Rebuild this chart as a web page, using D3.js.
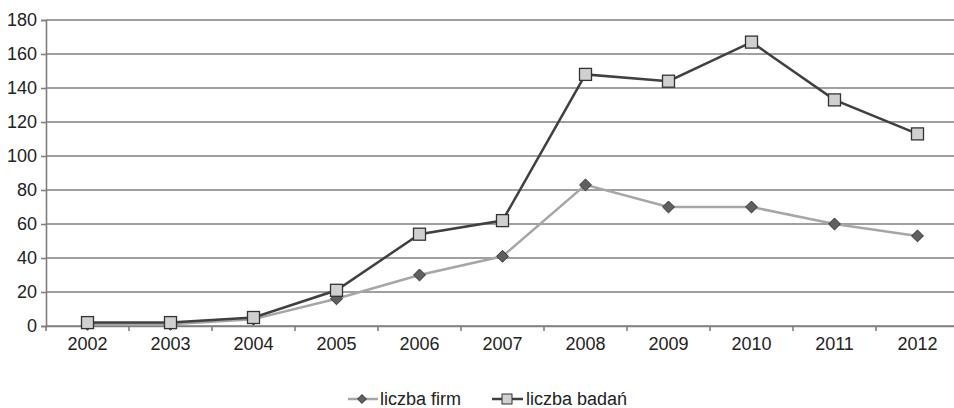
<!DOCTYPE html>
<html>
<head>
<meta charset="utf-8">
<script src="https://cdn.jsdelivr.net/npm/d3@7"></script>
<style>
  body { margin: 0; background: #fff; }
  text { font-family: "Liberation Sans", Arial, sans-serif; fill: #222; }
</style>
</head>
<body>
<svg id="chart" width="954" height="408"></svg>
<script>
var lata = ['2002', '2003', '2004', '2005', '2006', '2007', '2008', '2009', '2010', '2011', '2012'];
var liczbaFirm = [1, 1, 4, 16, 30, 41, 83, 70, 70, 60, 53];
var liczbaBadan = [2, 2, 5, 21, 54, 62, 148, 144, 167, 133, 113];
var yTicks = [0, 20, 40, 60, 80, 100, 120, 140, 160, 180];

var margin = {top: 20, right: 0, bottom: 82, left: 46},
  width = 913,
  height = 408 - margin.top - margin.bottom;

var svg = d3.select('#chart');
var g = svg.append('g')
  .attr('transform', 'translate(' + margin.left + ',' + margin.top + ')');

var x = d3.scaleBand().domain(lata).range([0, width]);
var y = d3.scaleLinear().domain([0, 180]).range([height, 0]);

// linie siatki
g.selectAll('.grid')
  .data(yTicks)
  .enter().append('line')
  .attr('x1', 0).attr('x2', width)
  .attr('y1', function(d) { return y(d); })
  .attr('y2', function(d) { return y(d); })
  .attr('stroke', '#7f7f7f')
  .attr('stroke-width', 1.6);

// os Y
var yAxis = g.append('g')
  .call(d3.axisLeft(y).tickValues(yTicks).tickSize(5).tickPadding(4));
yAxis.select('.domain').attr('stroke', '#7f7f7f').attr('stroke-width', 1.6);
yAxis.selectAll('.tick line').attr('stroke', '#7f7f7f').attr('stroke-width', 1.6);
yAxis.selectAll('.tick text').style('font-size', '18px');

// os X
var xAxis = g.append('g')
  .attr('transform', 'translate(0,' + height + ')')
  .call(d3.axisBottom(x).tickSize(0).tickPadding(11));
xAxis.select('.domain').attr('stroke', '#7f7f7f').attr('stroke-width', 1.6);
xAxis.selectAll('.tick text').style('font-size', '18px');
g.selectAll('.xtick')
  .data(lata.concat(['end']))
  .enter().append('line')
  .attr('x1', function(d, i) { return i * x.step(); })
  .attr('x2', function(d, i) { return i * x.step(); })
  .attr('y1', height).attr('y2', height + 5)
  .attr('stroke', '#7f7f7f')
  .attr('stroke-width', 1.6);

var cx = function(d, i) { return x(lata[i]) + x.bandwidth() / 2; };
var line = d3.line().x(cx).y(function(d) { return y(d); });

// liczba firm
g.append('path')
  .datum(liczbaFirm)
  .attr('fill', 'none')
  .attr('stroke', '#a6a6a6')
  .attr('stroke-width', 2.5)
  .attr('d', line);

// liczba badan
g.append('path')
  .datum(liczbaBadan)
  .attr('fill', 'none')
  .attr('stroke', '#404040')
  .attr('stroke-width', 2.5)
  .attr('d', line);

var diamond = d3.symbol().type(d3.symbolDiamond2).size(90);
g.selectAll('.firm')
  .data(liczbaFirm)
  .enter().append('path')
  .attr('d', diamond)
  .attr('transform', function(d, i) { return 'translate(' + cx(d, i) + ',' + y(d) + ')'; })
  .attr('fill', '#606060')
  .attr('stroke', '#333')
  .attr('stroke-width', 1);

g.selectAll('.badan')
  .data(liczbaBadan)
  .enter().append('rect')
  .attr('x', function(d, i) { return cx(d, i) - 6; })
  .attr('y', function(d) { return y(d) - 6; })
  .attr('width', 12).attr('height', 12)
  .attr('fill', '#d0d0d0')
  .attr('stroke', '#333')
  .attr('stroke-width', 1.3);

// legenda
var leg = svg.append('g').attr('transform', 'translate(0,399)');
leg.append('line').attr('x1', 348).attr('x2', 378).attr('y1', 0).attr('y2', 0)
  .attr('stroke', '#a6a6a6').attr('stroke-width', 2.5);
leg.append('path').attr('d', d3.symbol().type(d3.symbolDiamond2).size(50))
  .attr('transform', 'translate(362,0)')
  .attr('fill', '#606060').attr('stroke', '#333');
leg.append('text').attr('x', 380).attr('y', 6).style('font-size', '18px').text('liczba firm');

leg.append('line').attr('x1', 492).attr('x2', 523).attr('y1', 0).attr('y2', 0)
  .attr('stroke', '#404040').attr('stroke-width', 2.5);
leg.append('rect').attr('x', 502).attr('y', -5).attr('width', 10).attr('height', 10)
  .attr('fill', '#d0d0d0').attr('stroke', '#333');
leg.append('text').attr('x', 526).attr('y', 6).style('font-size', '18px').text('liczba badań');
</script>
</body>
</html>
